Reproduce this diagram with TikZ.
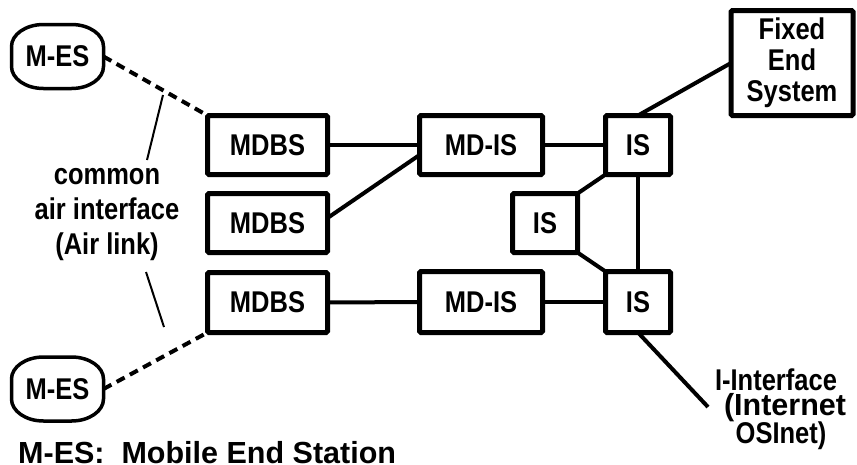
\documentclass[tikz,border=0pt]{standalone}
\usepackage{fontspec}
\setmainfont{Liberation Sans}
\newfontfamily\narrowfont{Liberation Sans}[FakeStretch=0.85]
\usetikzlibrary{calc}

\tikzset{
  boxtext/.style={font={\narrowfont\bfseries\fontsize{30}{31}\selectfont}},
  unit/.style={draw, line width=5pt, rounded corners=1.5pt, fill=white,
    inner sep=0pt, outer sep=0pt, boxtext},
  station/.style={inner sep=0pt, outer sep=0pt, boxtext,
    minimum width=92pt, minimum height=64pt},
  stationline/.style={line width=3.5pt},
  wire/.style={line width=4pt},
  radio/.style={line width=4pt, dash pattern=on 9pt off 6pt},
  pointer/.style={line width=2pt},
  note/.style={inner sep=0pt, align=center,
    font={\narrowfont\bfseries\fontsize{30}{35}\selectfont}},
  bignote/.style={inner sep=0pt, font={\bfseries\fontsize{30.5}{34}\selectfont}}
}

% rounded outline of a mobile station
\newcommand\stationoutline[1]{%
  \draw[stationline]
    ($(#1.north west)+(32,0)$) -- ($(#1.north east)+(-32,0)$)
    arc[start angle=90,end angle=0,x radius=32,y radius=22]
    -- ($(#1.south east)+(0,22)$)
    arc[start angle=0,end angle=-90,x radius=32,y radius=22]
    -- ($(#1.south west)+(32,0)$)
    arc[start angle=270,end angle=180,x radius=32,y radius=22]
    -- ($(#1.north west)+(0,-22)$)
    arc[start angle=180,end angle=90,x radius=32,y radius=22] -- cycle;}

\begin{document}
\begin{tikzpicture}[x=1pt,y=1pt]
\useasboundingbox (0,0) rectangle (857,-464);

% mobile end stations
\node[station] (mes1) at (57.5,-56.5) {M-ES};
\node[station] (mes2) at (57.5,-389) {M-ES};
\stationoutline{mes1}
\stationoutline{mes2}

% base stations
\node[unit, minimum width=120pt, minimum height=59pt] (mdbs1) at (267.5,-145) {MDBS};
\node[unit, minimum width=120pt, minimum height=59pt] (mdbs2) at (267.5,-223) {MDBS};
\node[unit, minimum width=120pt, minimum height=60pt] (mdbs3) at (267.5,-302.5) {MDBS};

% mobile data intermediate systems
\node[unit, minimum width=123pt, minimum height=59pt] (mdis1) at (481,-145) {MD-IS};
\node[unit, minimum width=123pt, minimum height=61pt] (mdis2) at (481,-302) {MD-IS};

% intermediate systems
\node[unit, minimum width=65pt, minimum height=59pt] (is1) at (638,-145) {IS};
\node[unit, minimum width=65pt, minimum height=59pt] (is2) at (545,-223) {IS};
\node[unit, minimum width=65pt, minimum height=61pt] (is3) at (638,-302) {IS};

% fixed end system
\node[unit, align=center, minimum width=122pt, minimum height=105pt] (fes) at (792,-63)
  {Fixed\\End\\System};

% air links
\draw[radio] (mes1.east) -- (mdbs1.north west);
\draw[radio] (mes2.east) -- (mdbs3.south west);

% wired links
\draw[wire] (mdbs1.east) -- (mdis1.west);
\draw[wire] ([yshift=5pt]mdbs2.east) -- ([yshift=-10pt]mdis1.west);
\draw[wire] (mdbs3.east) -- (mdis2.west);
\draw[wire] (mdis1.east) -- (is1.west);
\draw[wire] (mdis2.east) -- (is3.west);
\draw[wire] (is1.south) -- (is3.north);
\draw[wire] (is1.south west) -- (is2.north east);
\draw[wire] (is2.south east) -- (is3.north west);
\draw[wire] (is1.north) -- (fes.west);
\coordinate (inet) at (708,-407);
\draw[wire] (is3.south) -- (inet);

% air interface label with its pointers
\node[note] (air) at (107,-215) {common\\air interface\\(Air link)};
\coordinate (airtop) at (163,-95);
\coordinate (airtopfoot) at (147,-160);
\coordinate (airbot) at (164,-327);
\coordinate (airbotfoot) at (146,-272);
\draw[pointer] (airtopfoot) -- (airtop);
\draw[pointer] (airbotfoot) -- (airbot);

% internet interface label
\node[note] (iif) at (776,-380) {I-Interface};
\node[bignote] (inetlbl) at (785,-408) {(Internet};
\node[note] (osinet) at (781,-436) {OSInet)};

% legend
\node[bignote, anchor=base west] (legend) at (18,-463) {M-ES:\ \ Mobile End Station};
\end{tikzpicture}
\end{document}
